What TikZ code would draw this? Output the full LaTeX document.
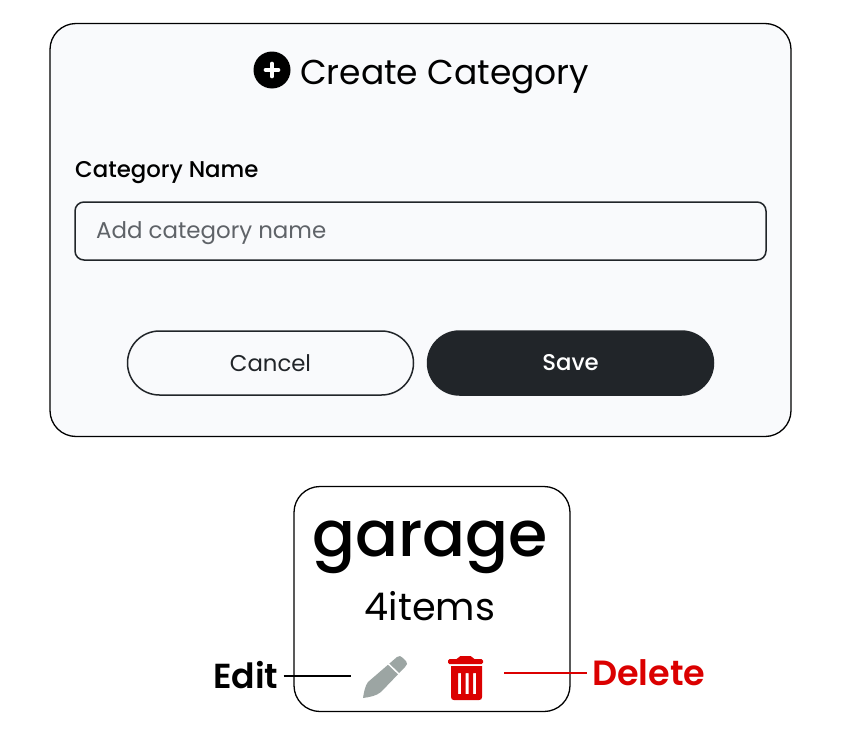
\documentclass[tikz,border=0pt]{standalone}
\usepackage{fontspec}
\setmainfont{Poppins}
\definecolor{panelbg}{HTML}{F9FAFC}
\definecolor{darkbtn}{HTML}{212529}
\definecolor{hint}{HTML}{5F6368}
\definecolor{redc}{HTML}{DB0000}
\definecolor{grayic}{HTML}{9CA5A3}
\tikzset{
 x=1pt,y=-1pt,
 txt/.style={inner sep=0pt,anchor=center},
 btn/.style={draw=darkbtn,line width=1.5pt,rounded corners=32pt,minimum width=286pt,minimum height=64pt,inner sep=0pt},
 leader/.style={line width=2.5pt}
}
\begin{document}
\begin{tikzpicture}
\useasboundingbox (0,0) rectangle (852,744);
\fill[white] (0,0) rectangle (852,744);
\node[draw=black,line width=1.3pt,fill=panelbg,rounded corners=26pt,minimum width=741pt,minimum height=413pt,inner sep=0pt] (panel) at (420.5,230) {};
\node[circle,fill=black,minimum size=37pt,inner sep=0pt] (plus) at (272,70) {};
\draw[white,line width=3.6pt,line cap=round] (272,63.5) -- (272,76.5) (265.5,70) -- (278.5,70);
\node[txt,font=\fontsize{34.5}{35}\selectfont,anchor=west] (title) at (300,77) {Create Category};
\node[txt,font=\fontsize{22.8}{23}\selectfont\fontspec{Poppins Medium},anchor=west] (lab) at (75,173) {Category Name};
\node[draw=darkbtn,line width=1.5pt,fill=panelbg,rounded corners=9pt,minimum width=691pt,minimum height=58pt,inner sep=0pt] (input) at (420.5,231) {};
\node[txt,font=\fontsize{22.9}{23}\selectfont,text=hint,anchor=west] (ph) at (96,233.6) {Add category name};
\node[btn,fill=panelbg] (cancel) at (270.5,363) {};
\node[txt,font=\fontsize{22.8}{23}\selectfont,text=darkbtn] at (270.5,363) {Cancel};
\node[btn,fill=darkbtn] (save) at (570.5,363) {};
\node[txt,font=\fontsize{22.8}{23}\selectfont\fontspec{Poppins Medium},text=white] at (570.5,363) {Save};
\node[draw=black,line width=1.3pt,fill=white,rounded corners=26pt,minimum width=276pt,minimum height=225pt,inner sep=0pt] (card) at (432,599) {};
\node[txt,font=\fontsize{63.5}{64}\selectfont\fontspec{Poppins Medium}] (g) at (430,547) {garage};
\node[txt,font=\fontsize{38.2}{38}\selectfont] (n) at (430,606) {4items};
% pencil
\coordinate (penL) at (351,676);
\fill[grayic] (363,698) .. controls (364,692) and (365,686) .. (368,682) -- (397,657) .. controls (399,655) and (401,656) .. (403,658) -- (406,661) .. controls (408,663) and (407,665) .. (405,667) -- (381,692) .. controls (376,696) and (370,697) .. (363,698) -- cycle;
\draw[white,line width=1.5pt] (388,663.5) -- (401,676);
% trash
\coordinate (binR) at (504,673);
\fill[redc,rounded corners=1.5pt] (448,659) -- (458,659) -- (459,656) -- (472,656) -- (473,659) -- (483,659) -- (483,664) -- (448,664) -- cycle;
\fill[redc,even odd rule] (451,666) -- (482,666) -- (482,697) .. controls (482,699) and (481,700) .. (479,700) -- (454,700) .. controls (452,700) and (451,699) .. (451,697) -- cycle
 (458,673) rectangle (461,694) (465.5,673) rectangle (468.5,694) (473,673) rectangle (476,694);
\node[font=\fontsize{34.7}{35}\selectfont\fontspec{Poppins SemiBold},inner xsep=5pt,inner ysep=0pt,anchor=east] (edit) at (283.6,675) {Edit};
\node[font=\fontsize{35}{35}\selectfont\fontspec{Poppins SemiBold},text=redc,inner xsep=5pt,inner ysep=0pt,anchor=west] (del) at (587,673) {Delete};
\draw[black,leader] (edit.east |- penL) -- (penL);
\draw[redc,leader] (binR) -- (del.west |- binR);
\end{tikzpicture}
\end{document}
